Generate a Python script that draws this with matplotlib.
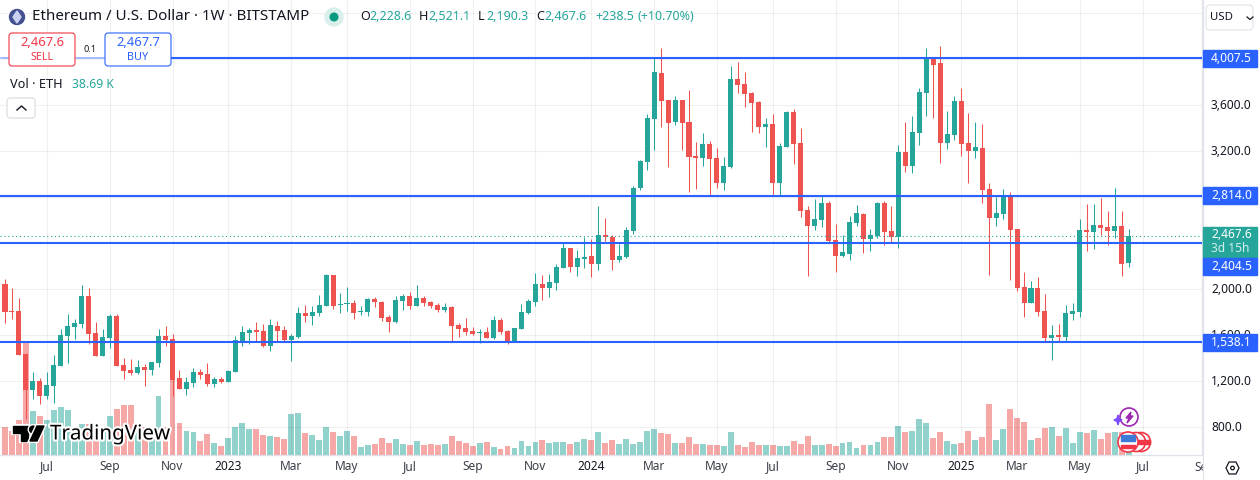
import matplotlib
matplotlib.use('Agg')
import matplotlib.pyplot as plt
import matplotlib.patheffects as pe
from matplotlib.patches import Circle, FancyBboxPatch, Polygon, Rectangle
from matplotlib.transforms import ScaledTranslation
import numpy as np

plt.rcParams['font.family'] = ['Noto Sans', 'DejaVu Sans']

# weekly candles
opens = [2044, 1809, 1809, 1435, 1122, 1200, 1070, 1157, 1331, 1592,
         1670, 1696, 1940, 1618, 1418, 1574, 1766, 1340, 1296, 1270,
         1322, 1296, 1357, 1592, 1566, 1226, 1131, 1183, 1279, 1261,
         1174, 1218, 1192, 1279, 1531, 1618, 1644, 1635, 1505, 1679,
         1644, 1557, 1583, 1792, 1766, 1792, 1853, 2123, 1862, 1870,
         1879, 1801, 1801, 1914, 1888, 1757, 1714, 1896, 1940, 1853,
         1922, 1888, 1862, 1818, 1844, 1688, 1661, 1635, 1618, 1627,
         1574, 1731, 1635, 1540, 1653, 1792, 1888, 2044, 2009, 2053,
         2183, 2356, 2191, 2261, 2287, 2217, 2470, 2452, 2252, 2278,
         2505, 2879, 3105, 3479, 3879, 3644, 3453, 3644, 3453, 3157,
         3140, 3261, 3140, 2922, 3061, 3827, 3783, 3705, 3627, 3409,
         3435, 2922, 3235, 3540, 3270, 2687, 2548, 2600, 2748, 2426,
         2287, 2305, 2574, 2653, 2435, 2461, 2748, 2505, 2452, 3192,
         3070, 3357, 3705, 4010, 3966, 3270, 3340, 3635, 3270, 3201,
         3227, 2870, 2618, 2653, 2818, 2523, 2018, 1879, 2010, 1810,
         1575, 1601, 1584, 1784, 1801, 2514, 2497, 2558, 2540, 2505,
         2549, 2228.6]
closes = [1801, 1805, 1426, 1122, 1200, 1070, 1166, 1340, 1600, 1679,
          1705, 1940, 1609, 1418, 1583, 1766, 1331, 1287, 1270, 1322,
          1296, 1366, 1592, 1557, 1209, 1131, 1192, 1279, 1253, 1174,
          1218, 1192, 1287, 1557, 1627, 1644, 1627, 1505, 1688, 1635,
          1557, 1592, 1792, 1766, 1801, 1862, 2123, 1853, 1870, 1879,
          1792, 1809, 1914, 1888, 1749, 1714, 1905, 1940, 1853, 1922,
          1879, 1853, 1818, 1844, 1679, 1653, 1627, 1609, 1627, 1574,
          1731, 1627, 1540, 1661, 1801, 1896, 2044, 2009, 2062, 2192,
          2356, 2191, 2269, 2278, 2217, 2470, 2452, 2252, 2287, 2513,
          2879, 3114, 3487, 3888, 3635, 3444, 3644, 3444, 3148, 3140,
          3261, 3131, 2922, 3070, 3827, 3775, 3696, 3618, 3409, 3435,
          2922, 3244, 3540, 3261, 2678, 2548, 2609, 2748, 2417, 2287,
          2322, 2583, 2661, 2435, 2470, 2748, 2496, 2452, 3192, 3070,
          3366, 3714, 4010, 3949, 3270, 3349, 3635, 3261, 3201, 3235,
          2861, 2618, 2661, 2818, 2513, 2010, 1879, 2010, 1801, 1575,
          1601, 1584, 1792, 1810, 2514, 2497, 2558, 2532, 2505, 2549,
          2218, 2467.6]
highs = [2088, 2015, 1920, 1447, 1279, 1232, 1279, 1426, 1658, 1783,
         1745, 2035, 2015, 1719, 1653, 1789, 1783, 1406, 1398, 1383,
         1348, 1372, 1658, 1679, 1609, 1296, 1235, 1314, 1305, 1357,
         1235, 1235, 1296, 1592, 1679, 1661, 1714, 1696, 1740, 1722,
         1679, 1609, 1844, 1862, 1853, 1949, 2137, 2123, 1966, 2018,
         1905, 1853, 1922, 1931, 1896, 1774, 1940, 1957, 1975, 2036,
         1940, 1896, 1879, 1879, 1853, 1705, 1748, 1670, 1653, 1670,
         1766, 1748, 1644, 1667, 1870, 1914, 2140, 2123, 2131, 2218,
         2409, 2356, 2339, 2452, 2435, 2722, 2617, 2470, 2391, 2539,
         2896, 3122, 3522, 4010, 4097, 3644, 3679, 3644, 3731, 3279,
         3357, 3287, 3227, 3148, 3940, 3975, 3888, 3714, 3636, 3488,
         3522, 3270, 3548, 3566, 3401, 2722, 2783, 2818, 2765, 2565,
         2470, 2635, 2731, 2661, 2522, 2757, 2765, 2722, 3253, 3453,
         3505, 3749, 4097, 4010, 4114, 3549, 3679, 3749, 3531, 3453,
         3435, 2922, 2800, 2870, 2844, 2523, 2149, 2071, 2105, 1958,
         1688, 1697, 1862, 1879, 2610, 2740, 2740, 2792, 2679, 2879,
         2679, 2521.1]
lows = [1708, 1740, 1426, 876, 1044, 1000, 1044, 1009, 1331, 1357,
        1566, 1661, 1522, 1418, 1418, 1488, 1331, 1218, 1253, 1261,
        1157, 1253, 1322, 1505, 1070, 1131, 1079, 1148, 1218, 1157,
        1148, 1183, 1192, 1279, 1505, 1522, 1540, 1496, 1461, 1548,
        1548, 1374, 1574, 1714, 1688, 1766, 1853, 1827, 1792, 1809,
        1740, 1774, 1766, 1844, 1722, 1627, 1705, 1818, 1827, 1853,
        1853, 1836, 1801, 1801, 1548, 1583, 1601, 1601, 1531, 1574,
        1566, 1609, 1522, 1540, 1653, 1783, 1853, 1905, 1931, 1992,
        2183, 2148, 2113, 2183, 2104, 2165, 2417, 2165, 2235, 2270,
        2478, 2861, 3035, 3209, 3409, 3061, 3427, 3209, 2844, 2870,
        3070, 2818, 2878, 2861, 3053, 3705, 3583, 3366, 3357, 3235,
        2809, 2818, 3235, 3087, 2626, 2113, 2513, 2539, 2400, 2148,
        2278, 2252, 2548, 2313, 2331, 2444, 2383, 2409, 2357, 3018,
        3009, 3253, 3505, 3488, 3096, 3218, 3296, 3157, 2922, 3140,
        2748, 2122, 2548, 2609, 2078, 1984, 1757, 1879, 1766, 1540,
        1384, 1540, 1540, 1731, 1758, 2331, 2349, 2471, 2384, 2444,
        2114, 2190.3]
# thousands of ETH
volumes = [336, 288, 420, 1360, 528, 468, 420, 540, 576, 540,
           340, 372, 372, 300, 300, 468, 552, 600, 600, 360,
           340, 340, 708, 340, 900, 384, 288, 276, 168, 252,
           144, 108, 204, 336, 384, 312, 312, 240, 228, 216,
           192, 492, 504, 264, 240, 180, 336, 276, 228, 288,
           228, 96, 120, 132, 204, 144, 192, 132, 120, 168,
           120, 132, 120, 132, 228, 168, 144, 108, 144, 156,
           96, 72, 108, 84, 168, 108, 156, 180, 144, 156,
           156, 132, 156, 192, 180, 276, 144, 180, 132, 192,
           132, 156, 288, 312, 264, 252, 144, 144, 216, 132,
           132, 120, 120, 108, 276, 120, 96, 156, 120, 120,
           120, 108, 108, 168, 132, 228, 120, 120, 132, 108,
           144, 156, 84, 120, 120, 156, 216, 216, 348, 276,
           288, 432, 384, 204, 276, 168, 132, 144, 288, 180,
           216, 612, 180, 312, 552, 444, 396, 180, 204, 324,
           336, 228, 324, 144, 276, 264, 300, 192, 264, 276,
           276, 38.69]

level_prices = [4007.5, 2814.0, 2404.5, 1538.1]
last_price = 2467.6
price_ticks = [800, 1200, 1600, 2000, 2400, 2800, 3200, 3600, 4000, 4400]
shown_ticks = [800, 1200, 1600, 2000, 3200, 3600]

month_pos = [6, 15, 24, 32, 41, 49, 58, 67, 76, 84, 93, 102, 110, 119, 128, 137, 145, 154, 163]
month_names = ['Jul', 'Sep', 'Nov', '2023', 'Mar', 'May', 'Jul', 'Sep', 'Nov', '2024',
               'Mar', 'May', 'Jul', 'Sep', 'Nov', '2025', 'Mar', 'May', 'Jul']

UP = '#26a69a'
DOWN = '#ef5350'
BLUE = '#2962ff'
INK = '#131722'

opens = np.array(opens)
closes = np.array(closes)
highs = np.array(highs)
lows = np.array(lows)
volumes = np.array(volumes)
idx = np.arange(len(opens))
is_up = closes >= opens
colors = np.where(is_up, UP, DOWN)

fig = plt.figure(figsize=(12.6, 4.8), dpi=100)

# volume sits behind the price axes
vax = fig.add_axes([0, 25 / 480, 1202 / 1260, 455 / 480])
ax = vax.twinx()
ax.set_zorder(vax.get_zorder() + 1)
ax.patch.set_visible(False)

vax.bar(idx, volumes, width=0.84, color=colors, alpha=0.5, linewidth=0)
vax.set_ylim(0, 5460)
vax.set_yticks([])

ax.vlines(idx, lows, highs, colors=colors, linewidth=0.75, zorder=3)
ax.bar(idx, np.abs(closes - opens), bottom=np.minimum(opens, closes), width=0.72,
       color=colors, linewidth=0, zorder=4)

for p in level_prices:
    ax.axhline(p, color=BLUE, linewidth=1.5, zorder=6)
ax.axhline(last_price, color=UP, linewidth=0.8, linestyle=(0, (1, 2.5)), zorder=5)

ax.set_ylim(559, 4515.7)

ax.yaxis.tick_right()
ax.set_yticks(price_ticks)
ax.set_yticklabels([f'{t:,.1f}' if t in shown_ticks else '' for t in price_ticks],
                   fontsize=8.6, color=INK)
ax.tick_params(axis='y', length=0, pad=6.4)
# scale labels sit a pixel above their grid lines
up_1px = ScaledTranslation(0, 1.2 / 100, fig.dpi_scale_trans)
for tick in ax.yaxis.get_major_ticks():
    tick.label2.set_transform(tick.label2.get_transform() + up_1px)
vax.set_xticks(month_pos)
vax.set_xticklabels(month_names, fontsize=8.6, color='#3b3f4a')
vax.tick_params(axis='x', length=0, pad=3.6)
for lab in vax.get_xticklabels():
    if lab.get_text().isdigit():
        lab.set_fontweight('bold')
        lab.set_color(INK)

# set_xticks widens the view, so the limits go after it
ax.set_xlim(-0.716, 171.5)

vax.grid(False)
ax.grid(axis='y', color='black', alpha=0.06, linewidth=0.8)
ax.set_axisbelow(True)
for xp in month_pos:
    ax.axvline(xp, color='black', alpha=0.06, linewidth=0.8, zorder=0)

for a in (ax, vax):
    for side in ('top', 'left'):
        a.spines[side].set_visible(False)
    a.spines['right'].set_color('#e0e3eb')
    a.spines['bottom'].set_color('#e0e3eb')

# overlay in pixel coordinates for the TradingView chrome
ov = fig.add_axes([0, 0, 1, 1], zorder=20)
ov.set_xlim(0, 1260)
ov.set_ylim(480, 0)
ov.axis('off')

# the last month label runs under the price scale and gets cut off
ov.text(1205, 467, 'Sep', color='#3b3f4a', fontsize=8.6, ha='center', va='center', zorder=0.5)
ov.add_patch(Rectangle((1203, 456), 57, 24, color='white', zorder=1))
ov.plot([1202.5, 1202.5], [0, 480], color='#e0e3eb', linewidth=0.8, zorder=1.5)


def label(x, y, s, color=INK, size=8.6, ha='left', **kw):
    ov.text(x, y, s, color=color, fontsize=size, ha=ha, va='center', zorder=5, **kw)


def rbox(x0, y0, x1, y1, face, edge, r=3, lw=0.8, z=3):
    ov.add_patch(FancyBboxPatch((x0 + r, y0 + r), x1 - x0 - 2 * r, y1 - y0 - 2 * r,
                                boxstyle=f'round,pad={r},rounding_size={r}',
                                facecolor=face, edgecolor=edge, linewidth=lw, zorder=z))


# header
ov.add_patch(Circle((17, 17), 7.5, color='#45508f', zorder=3))
ov.add_patch(Polygon([(17, 11), (21, 17), (17, 23), (13, 17)], color='#c9d2f5', zorder=4))
label(32, 17, 'Ethereum / U.S. Dollar · 1W · BITSTAMP', size=10.9)
ov.add_patch(Circle((334, 17), 9, color='#d9efec', zorder=3))
ov.add_patch(Circle((334, 17), 3.8, color='#089981', zorder=4))
ohlc_text = [(360, 'O', INK), (369, '2,228.6', UP), (419, 'H', INK), (428, '2,521.1', UP),
             (478, 'L', INK), (486, '2,190.3', UP), (536, 'C', INK), (544, '2,467.6', UP),
             (595, '+238.5', UP), (638, '(+10.70%)', UP)]
for x, s, c in ohlc_text:
    label(x, 17, s, color=c, size=9)

# sell/buy buttons, the level line fades behind them
for x0, x1 in [(0, 9), (75, 105)]:
    ov.add_patch(Rectangle((x0, 56), x1 - x0, 5, color='white', alpha=0.55, zorder=2))
rbox(9, 33, 75, 66, 'white', '#f23645')
rbox(105, 33, 171, 66, 'white', BLUE)
label(42, 43, '2,467.6', color='#f23645', ha='center', size=9.3)
label(42, 58, 'SELL', color='#f23645', ha='center', size=7.8)
label(138, 43, '2,467.7', color=BLUE, ha='center', size=9.3)
label(138, 58, 'BUY', color=BLUE, ha='center', size=7.8)
label(90, 50, '0.1', size=6.6, ha='center')

label(10, 84, 'Vol · ETH', size=9.2)
label(72, 84, '38.69 K', color=UP, size=8.8)
rbox(7, 98, 35, 118, 'white', '#d8dae0')
ov.plot([17, 21.5, 26], [110, 106, 110], color=INK, linewidth=1, zorder=5)

# logo
logo_pe = [pe.withStroke(linewidth=3, foreground='white')]
ov.add_patch(Polygon([(13, 426), (28, 426), (28, 441), (21, 441), (21, 433), (13, 433)],
                     color='black', zorder=4, path_effects=logo_pe))
ov.add_patch(Circle((33, 429.5), 3.4, color='black', zorder=4, path_effects=logo_pe))
ov.add_patch(Polygon([(37, 426), (44, 426), (37, 441), (30, 441)], color='black', zorder=4,
                     path_effects=logo_pe))
ov.text(50, 434.5, 'TradingView', color='black', fontsize=14.8, fontweight='bold',
        ha='left', va='center', zorder=5, path_effects=logo_pe)

# event badges
ov.add_patch(Circle((1129, 417), 9, facecolor='white', edgecolor='#9c27b0', linewidth=1.2, zorder=4))
ov.add_patch(Polygon([(1131, 412), (1126, 418), (1129, 418), (1127, 423), (1133, 416), (1130, 416)],
                     color='#9c27b0', zorder=5))
ov.add_patch(Polygon([(1118, 415), (1119, 418.5), (1122, 420), (1119, 421.5), (1118, 425),
                      (1117, 421.5), (1114, 420), (1117, 418.5)], color='#7c4dff', zorder=5))
for cx in (1141, 1136):
    ov.add_patch(Circle((cx, 442), 9.5, facecolor='white', edgecolor='#f23645', linewidth=1.2, zorder=4))
    ov.add_patch(Rectangle((cx, 440), 9, 4, color='#f23645', zorder=4))
ov.add_patch(Circle((1128, 442), 10, facecolor='white', edgecolor='#f23645', linewidth=1.2, zorder=4.2))
ov.add_patch(Rectangle((1121, 435), 14, 6, color='#3d7bd6', zorder=4.3))
ov.add_patch(Rectangle((1121, 445), 14, 3, color='#f23645', zorder=4.3))

# price scale tags
for y0, y1, s in [(50, 67, '4,007.5'), (187, 204, '2,814.0'), (334, 351, '1,538.1')]:
    ov.add_patch(Rectangle((1203, y0), 54, y1 - y0, color=BLUE, zorder=3))
    label(1211, (y0 + y1) / 2, s, color='white')
ov.add_patch(Rectangle((1203, 227), 54, 31, color=UP, zorder=3))
label(1211, 235, '2,467.6', color='white')
label(1211, 249, '3d 15h', color='#cfeeea')
ov.add_patch(Rectangle((1203, 258), 54, 17, color=BLUE, zorder=3))
label(1211, 266, '2,404.5', color='white')

# currency box and settings
rbox(1206, 5, 1253, 30, 'white', '#e0e3eb', r=4)
label(1210, 17, 'USD', size=8.2)
ov.plot([1247, 1250, 1253], [17, 19.5, 17], color=INK, linewidth=0.9, zorder=5)
ov.add_patch(Polygon([(1226, 468), (1229, 462), (1236, 462), (1239, 468), (1236, 474), (1229, 474)],
                     fill=False, edgecolor=INK, linewidth=0.9, zorder=5))
ov.add_patch(Circle((1232.5, 468), 1.8, fill=False, edgecolor=INK, linewidth=0.9, zorder=5))

fig.savefig('out.png', dpi=100)
